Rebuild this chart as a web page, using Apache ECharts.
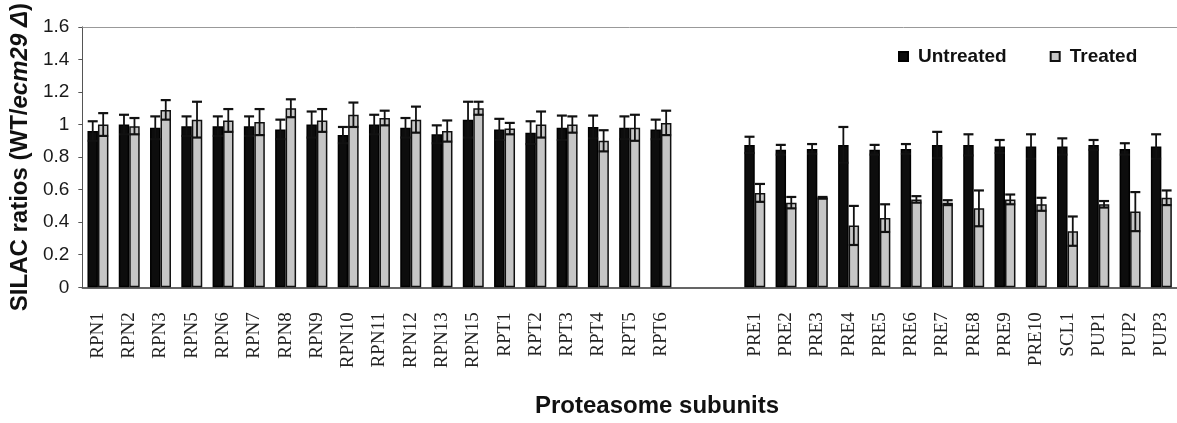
<!DOCTYPE html>
<html>
<head>
<meta charset="utf-8">
<script src="https://cdn.jsdelivr.net/npm/echarts@6/dist/echarts.min.js"></script>
<style>
html,body{margin:0;padding:0;background:#fff;}
#chart{width:1177px;height:423px;}
</style>
</head>
<body>
<div id="chart"></div>
<script>
const categories = ['RPN1','RPN2','RPN3','RPN5','RPN6','RPN7','RPN8','RPN9','RPN10','RPN11','RPN12','RPN13','RPN15','RPT1','RPT2','RPT3','RPT4','RPT5','RPT6',' ','  ','PRE1','PRE2','PRE3','PRE4','PRE5','PRE6','PRE7','PRE8','PRE9','PRE10','SCL1','PUP1','PUP2','PUP3'];
const untreated = [0.96,1.00,0.98,0.99,0.99,0.99,0.97,1.00,0.935,1.00,0.98,0.94,1.03,0.97,0.95,0.98,0.985,0.98,0.97,'-','-',0.875,0.845,0.85,0.875,0.845,0.85,0.875,0.875,0.865,0.865,0.865,0.875,0.85,0.865];
const untreatedErr = [0.06,0.06,0.07,0.06,0.06,0.06,0.06,0.08,0.05,0.06,0.06,0.055,0.11,0.065,0.07,0.075,0.07,0.07,0.06,null,null,0.05,0.03,0.03,0.11,0.03,0.03,0.08,0.065,0.04,0.075,0.05,0.03,0.035,0.075];
const treated = [1.00,0.99,1.09,1.03,1.025,1.015,1.10,1.025,1.06,1.04,1.03,0.96,1.10,0.975,1.00,1.00,0.90,0.98,1.01,'-','-',0.58,0.52,0.55,0.38,0.425,0.54,0.52,0.485,0.54,0.51,0.345,0.51,0.465,0.55];
const treatedErr = [0.07,0.05,0.06,0.11,0.07,0.08,0.055,0.07,0.075,0.045,0.08,0.065,0.04,0.035,0.08,0.05,0.065,0.08,0.075,null,null,0.055,0.035,0.005,0.12,0.085,0.02,0.015,0.11,0.03,0.04,0.09,0.02,0.12,0.045];
const seriesNames = ['Untreated','Treated'];
const yTicks = {min:0, max:1.6, interval:0.2};

const BAR_FRAC = 0.335;
const SANS = "'Liberation Sans', Arial, sans-serif";
const SERIF = "'Liberation Serif', 'Times New Roman', serif";

function errData(vals, errs){
  const out = [];
  vals.forEach((v,i)=>{ if (v !== '-' && errs[i] != null) out.push([i, v, errs[i]]); });
  return out;
}
function errRender(side){
  return function(params, api){
    const idx = api.value(0), v = api.value(1), e = api.value(2);
    const catW = api.size([1,0])[0];
    const off = side * catW * BAR_FRAC / 2;
    const hi = api.coord([idx, v + e]);
    const lo = api.coord([idx, v - e]);
    const x = hi[0] + off;
    const cap = 5;
    const style = {stroke:'#111', lineWidth:1.8, fill:null};
    const capStyle = {stroke:'#111', lineWidth:2.2, fill:null};
    return {type:'group', children:[
      {type:'line', shape:{x1:x, y1:hi[1], x2:x, y2:lo[1]}, style},
      {type:'line', shape:{x1:x-cap, y1:hi[1], x2:x+cap, y2:hi[1]}, style:capStyle},
      {type:'line', shape:{x1:x-cap, y1:lo[1], x2:x+cap, y2:lo[1]}, style:capStyle}
    ]};
  };
}

const chart = echarts.init(document.getElementById('chart'), null, {renderer:'canvas'});
chart.setOption({
  backgroundColor:'#ffffff',
  animation:false,
  grid:{left:78, top:26.7, height:260.6, width:1102.5},
  legend:{
    data:seriesNames, left:893, top:42, itemWidth:9, itemHeight:9, itemGap:43, icon:'rect',
    textStyle:{fontSize:19, fontWeight:'bold', color:'#111', fontFamily:SANS, padding:[0,0,0,5]}
  },
  graphic:[{
    type:'text', left:535, top:394,
    style:{text:'Proteasome subunits', font:"bold 24px 'Liberation Sans', Arial, sans-serif", fill:'#111'}
  }],
  xAxis:[{
    type:'category', data:categories,
    axisLine:{lineStyle:{color:'#333', width:1.5}},
    axisTick:{length:5, lineStyle:{color:'#555'}, interval:function(i){ return i !== 20; }},
    axisLabel:{interval:0, rotate:90, margin:25, fontFamily:SERIF, fontSize:19, color:'#222'}
  },{
    type:'category', data:categories, position:'top',
    axisLine:{show:true, lineStyle:{color:'#999', width:1}},
    axisTick:{show:false}, axisLabel:{show:false}
  }],
  yAxis:{
    type:'value', min:yTicks.min, max:yTicks.max, interval:yTicks.interval,
    splitLine:{show:false},
    axisLine:{show:true, lineStyle:{color:'#555', width:1}},
    axisTick:{show:true, length:4, lineStyle:{color:'#555'}},
    axisLabel:{fontFamily:SANS, fontSize:19, color:'#1a1a1a', margin:13},
    name:'{b|SILAC ratios (WT/}{i|ecm29 Δ}{b|)}',
    nameLocation:'middle', nameRotate:90, nameGap:48,
    nameTextStyle:{
      rich:{
        b:{fontFamily:SANS, fontSize:24, fontWeight:'bold', color:'#111'},
        i:{fontFamily:SANS, fontSize:24, fontWeight:'bold', fontStyle:'italic', color:'#111'}
      }
    }
  },
  series:[
    {name:seriesNames[0], type:'bar', data:untreated, barWidth:(BAR_FRAC*100)+'%', barGap:'0%',
     itemStyle:{color:'#0d0d0d', borderColor:'#000', borderWidth:1.5}},
    {name:seriesNames[1], type:'bar', data:treated, barWidth:(BAR_FRAC*100)+'%', barGap:'0%',
     itemStyle:{color:'#c6c6c6', borderColor:'#111', borderWidth:1.5}},
    {type:'custom', renderItem:errRender(-1), data:errData(untreated, untreatedErr), z:10, silent:true},
    {type:'custom', renderItem:errRender(1), data:errData(treated, treatedErr), z:10, silent:true}
  ]
});
</script>
</body>
</html>
